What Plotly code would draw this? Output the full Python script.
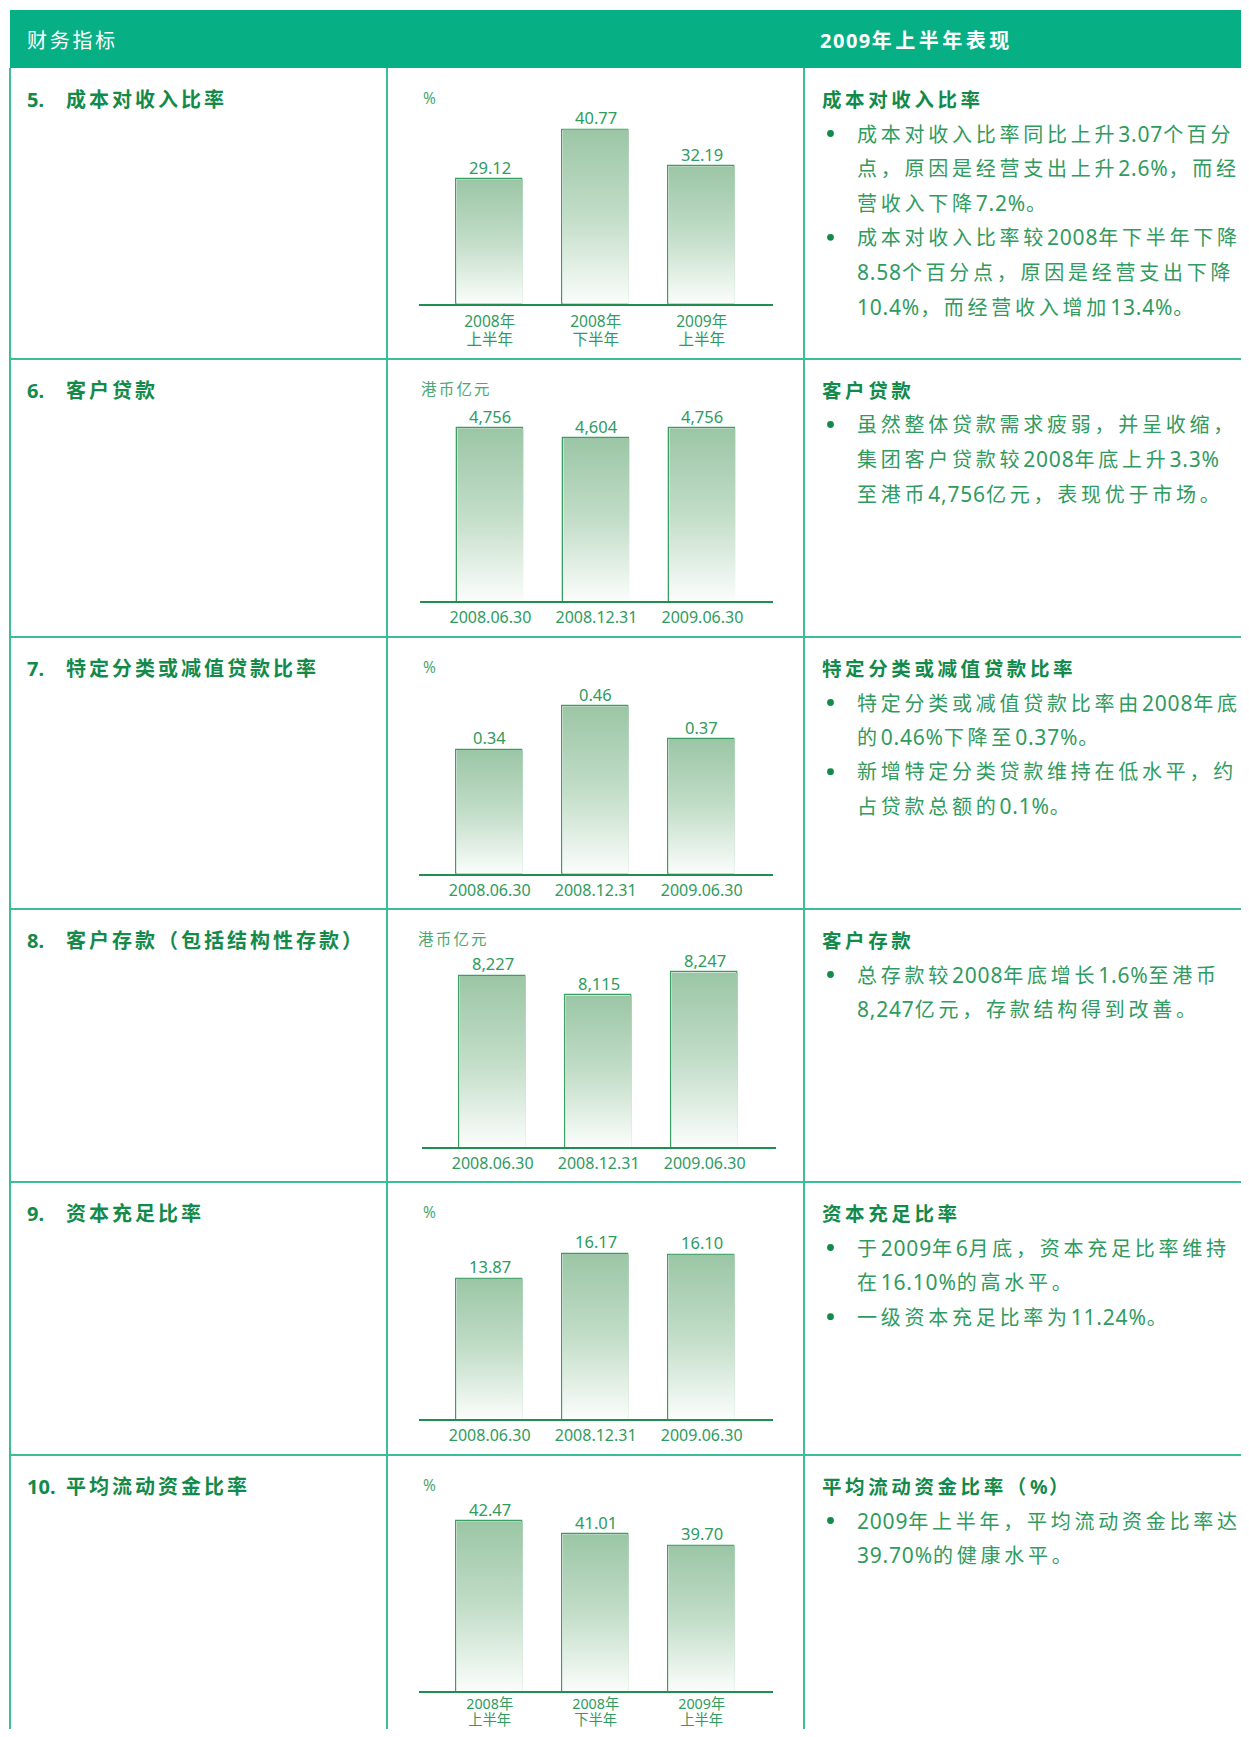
import re
import plotly.graph_objects as go

# ---------------- data ----------------
half_year_labels = ["2008年<br>上半年", "2008年<br>下半年", "2009年<br>上半年"]
date_labels = ["2008.06.30", "2008.12.31", "2009.06.30"]

cost_income_ratio = [29.12, 40.77, 32.19]        # %
customer_loans = [4756, 4604, 4756]               # 港币亿元
impaired_loan_ratio = [0.34, 0.46, 0.37]          # %
customer_deposits = [8227, 8115, 8247]            # 港币亿元
capital_adequacy_ratio = [13.87, 16.17, 16.10]    # %
avg_liquidity_ratio = [42.47, 41.01, 39.70]       # %

row_numbers = ["5.", "6.", "7.", "8.", "9.", "10."]
row_titles = ["成本对收入比率", "客户贷款", "特定分类或减值贷款比率",
              "客户存款（包括结构性存款）", "资本充足比率", "平均流动资金比率"]
row_units = ["%", "港币亿元", "%", "港币亿元", "%", "%"]
header_left = "财务指标"
header_right = "2009年上半年表现"
right_headings = ["成本对收入比率", "客户贷款", "特定分类或减值贷款比率",
                  "客户存款", "资本充足比率", "平均流动资金比率（%）"]
right_bullets = [
    [["成本对收入比率同比上升3.07个百分", "点，原因是经营支出上升2.6%，而经", "营收入下降7.2%。"],
     ["成本对收入比率较2008年下半年下降", "8.58个百分点，原因是经营支出下降", "10.4%，而经营收入增加13.4%。"]],
    [["虽然整体贷款需求疲弱，并呈收缩，", "集团客户贷款较2008年底上升3.3%", "至港币4,756亿元，表现优于市场。"]],
    [["特定分类或减值贷款比率由2008年底", "的0.46%下降至0.37%。"],
     ["新增特定分类贷款维持在低水平，约", "占贷款总额的0.1%。"]],
    [["总存款较2008年底增长1.6%至港币", "8,247亿元，存款结构得到改善。"]],
    [["于2009年6月底，资本充足比率维持", "在16.10%的高水平。"],
     ["一级资本充足比率为11.24%。"]],
    [["2009年上半年，平均流动资金比率达", "39.70%的健康水平。"]],
]

series = [cost_income_ratio, customer_loans, impaired_loan_ratio,
          customer_deposits, capital_adequacy_ratio, avg_liquidity_ratio]
categories = [half_year_labels, date_labels, date_labels, date_labels, date_labels, half_year_labels]
value_formats = ["{:.2f}", "{:,.0f}", "{:.2f}", "{:,.0f}", "{:.2f}", "{:.2f}"]

# ---------------- layout constants (page pixels) ----------------
W, H = 1249, 1737
OFF = 8                      # default page margin around the figure
FW, FH = W - 2 * OFF, H - 2 * OFF
ROW_TOPS = [68, 359, 637, 909, 1182, 1455]
BASELINES = [303.7, 601, 873.7, 1147, 1419, 1691.3]
PX_PER_UNIT = [4.27, 0.0638, 364.0, 0.174, 10.74, 8.81]
AXIS_MIN = [0, 2050, 0, 7244, 0.8, 23.17]
X_SHIFT = [0, 0.7, 0, 3, 0, 0]
UNIT_X = [421, 419, 421, 416, 421, 421]
# (base font size, line font size, standoff) for the two-line tick labels
TICK_STYLE = {0: (13.8, 15.5, 5), 5: (12.7, 14.3, 0)}

FONT = "Noto Sans, Noto Sans CJK SC"
C_HEADER = "#06b084"
C_LINE = "#3bbd95"
C_DARK = "#138a4a"
C_BODY = "#2f9b5e"
C_UNIT = "#4aa873"
C_AXIS = "#1f8f4f"
C_BAR_LINE = "#3a9f63"


def px(x):
    return (x - OFF) / FW


def py(y):
    return 1 - (y - OFF) / FH


CJK_CLASS = r"[\u3000-\u9fff\uff00-\uffef]"
RUN_RE = re.compile(CJK_CLASS + r"+|[^\u3000-\u9fff\uff00-\uffef]+")


def track(s, cjk_ls, lat_ls, lat_size=None):
    out = []
    for r in RUN_RE.findall(s):
        if re.match(CJK_CLASS, r):
            style = f"letter-spacing:{cjk_ls}px"
        else:
            style = f"letter-spacing:{lat_ls}px"
            if lat_size:
                style += f";font-size:{lat_size}px"
        out.append(f'<span style="{style}">{r}</span>')
    return "".join(out)


def tick_label(s, size):
    return "<br>".join(f'<span style="font-size:{size}px">{p}</span>' for p in s.split("<br>"))


fig = go.Figure()
layout = {}
annotations = []
shapes = []

# ---------------- table ----------------
shapes.append(dict(type="rect", xref="paper", yref="paper", x0=px(10), x1=px(W), y0=py(68), y1=py(10),
                   fillcolor=C_HEADER, line=dict(width=0), layer="below"))
for yt in ROW_TOPS[1:]:
    shapes.append(dict(type="line", xref="paper", yref="paper", x0=px(10), x1=px(W), y0=py(yt), y1=py(yt),
                       line=dict(color=C_LINE, width=2)))
for xv in [10, 387, 804]:
    shapes.append(dict(type="line", xref="paper", yref="paper", x0=px(xv), x1=px(xv), y0=py(68), y1=py(H),
                       line=dict(color=C_LINE, width=2)))


def add_text(x, y, text, size, color, bold=False, xanchor="left"):
    annotations.append(dict(x=px(x), y=py(y), xref="paper", yref="paper", text=text, showarrow=False,
                            xanchor=xanchor, yanchor="middle", align="left",
                            font=dict(family=FONT, size=size, color=color,
                                      weight="bold" if bold else "normal")))


def add_dot(x, y, r, color):
    shapes.append(dict(type="circle", xref="paper", yref="paper",
                       x0=px(x - r), x1=px(x + r), y0=py(y + r), y1=py(y - r),
                       fillcolor=color, line=dict(width=0)))


add_text(25, 41, track(header_left, 2.7, 1), 20, "white")
add_text(818, 41, track(header_right, 3.5, 1.5), 20, "white", bold=True)

for i in range(6):
    top = ROW_TOPS[i]
    add_text(25, top + 31.5, row_numbers[i], 20, C_DARK, bold=True)
    add_text(64, top + 31.5, track(row_titles[i], 3.0, 1), 20, C_DARK, bold=True)
    add_text(UNIT_X[i], top + 29.5, track(row_units[i], 2.2, 1), 15.5, C_UNIT)
    add_text(820, top + 31.5, track(right_headings[i], 3.6, 1.5), 19.5, C_DARK, bold=True)
    line_no = 0
    for bullet in right_bullets[i]:
        yb = top + 65.5 + line_no * 34.6
        add_dot(830.5, yb, 3.4, C_DARK)
        for ln in bullet:
            add_text(855, top + 65.5 + line_no * 34.6, track(ln, 3.75, 0.8, 21), 20, C_BODY)
            line_no += 1

# ---------------- charts ----------------
SPACING = 106.0
BAR_W = 66.0
for j in range(6):
    suf = "" if j == 0 else str(j + 1)
    L = 419.3 + X_SHIFT[j]
    R = 772.7 + X_SHIFT[j]
    c0 = 489.7 + X_SHIFT[j]
    b = BASELINES[j]
    top = ROW_TOPS[j] + 15
    v0 = AXIS_MIN[j]
    vmax = v0 + (b - top) / PX_PER_UNIT[j]
    hw = BAR_W / SPACING / 2
    vals = series[j]
    xs = list(range(len(vals)))

    for i, v in zip(xs, vals):
        fig.add_trace(go.Scatter(
            x=[i - hw, i - hw, i + hw, i + hw, i - hw], y=[v0, v, v, v0, v0],
            fill="toself", mode="none", hoverinfo="skip", showlegend=False,
            fillgradient=dict(type="vertical", start=v0, stop=v,
                              colorscale=[[0, "#fbfdfb"], [0.5, "#c2ddc8"], [1, "#9bc6a5"]]),
            xaxis="x" + suf, yaxis="y" + suf))

    fig.add_trace(go.Bar(
        x=xs, y=vals, width=BAR_W / SPACING,
        marker=dict(color="rgba(0,0,0,0)", line=dict(color=C_BAR_LINE, width=1.3)),
        showlegend=False, hoverinfo="skip",
        xaxis="x" + suf, yaxis="y" + suf))

    # value labels placed on the chart's own axes, just above each bar
    for i, v in zip(xs, vals):
        annotations.append(dict(x=i, y=v, xref="x" + suf, yref="y" + suf,
                                text=value_formats[j].format(v), showarrow=False,
                                xanchor="center", yanchor="middle", yshift=12,
                                font=dict(family=FONT, size=16.5, color=C_BODY)))

    if j in TICK_STYLE:
        tsize, lsize, standoff = TICK_STYLE[j]
        ticktext = [tick_label(c, lsize) for c in categories[j]]
    else:
        ticktext = categories[j]
        tsize, standoff = 16, 1
    layout["xaxis" + suf] = dict(
        domain=[px(L), px(R)], range=[(L - c0) / SPACING, (R - c0) / SPACING],
        anchor="y" + suf, showline=True, linecolor=C_AXIS, linewidth=2, automargin=False,
        showgrid=False, zeroline=False, ticks="", tickvals=xs, ticktext=ticktext,
        ticklabelstandoff=standoff,
        tickfont=dict(family=FONT, size=tsize, color=C_BODY), fixedrange=True)
    layout["yaxis" + suf] = dict(
        domain=[py(b), py(top)], range=[v0, vmax], anchor="x" + suf, automargin=False,
        visible=False, showgrid=False, zeroline=False, fixedrange=True)

fig.update_layout(
    width=FW, height=FH, margin=dict(l=0, r=0, t=0, b=0, pad=0, autoexpand=False),
    paper_bgcolor="white", plot_bgcolor="rgba(0,0,0,0)",
    showlegend=False, bargap=0,
    annotations=annotations, shapes=shapes,
    font=dict(family=FONT),
    **layout)

fig.write_html("out.html")
